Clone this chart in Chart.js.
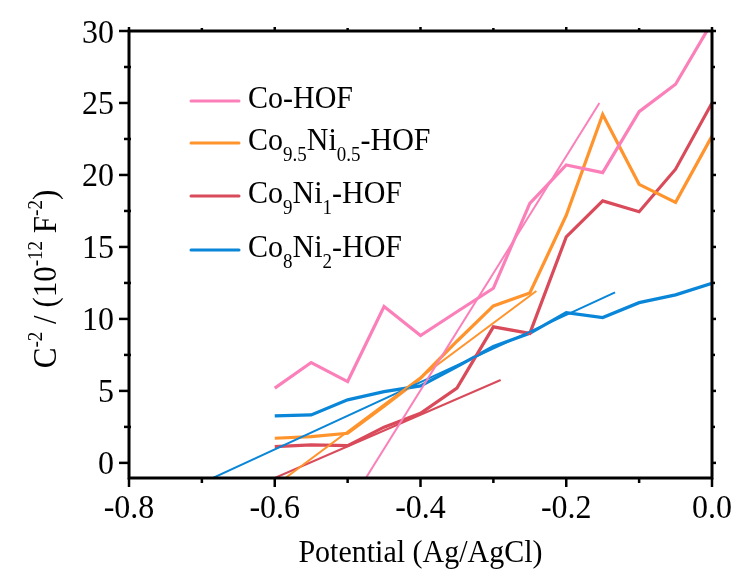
<!DOCTYPE html>
<html>
<head>
<meta charset="utf-8">
<script src="https://cdn.jsdelivr.net/npm/chart.js@4/dist/chart.umd.min.js"></script>
<style>
html,body{margin:0;padding:0;background:#fff;}
#c{display:block;}
</style>
</head>
<body>
<canvas id="c" width="738" height="574"></canvas>
<script>
// ---- data ----
const potentials = [-0.6, -0.55, -0.5, -0.45, -0.4, -0.35, -0.3, -0.25, -0.2, -0.15, -0.1, -0.05, 0.0];
const coHOF      = [5.19, 6.97, 5.65, 10.86, 8.84, 10.5, 12.13, 18.03, 20.7, 20.16, 24.4, 26.3, 30.6];
const co95Ni05   = [1.71, 1.83, 2.06, 3.93, 5.88, 8.45, 10.9, 11.8, 17.2, 24.2, 19.35, 18.1, 22.7];
const co9Ni1     = [1.13, 1.25, 1.2, 2.48, 3.45, 5.19, 9.45, 9.0, 15.7, 18.2, 17.45, 20.4, 25.0];
const co8Ni2     = [3.26, 3.33, 4.38, 4.95, 5.35, 6.69, 8.08, 9.0, 10.44, 10.1, 11.13, 11.67, 12.48];

// linear fits (end points)
const fitCoHOF_x = [-0.48, -0.1545];   const fitCoHOF_y = [-1.46, 25.0];
const fitCo95_x  = [-0.6, -0.241];     const fitCo95_y  = [-1.6, 11.94];
const fitCo9_x   = [-0.6, -0.29];      const fitCo9_y   = [-1.05, 5.76];
const fitCo8_x   = [-0.7, -0.133];     const fitCo8_y   = [-1.4, 11.85];

const xMajorTicks = [-0.8, -0.6, -0.4, -0.2, 0.0];
const xMajorLabels = ["-0.8", "-0.6", "-0.4", "-0.2", "0.0"];
const xMinorTicks = [-0.7, -0.5, -0.3, -0.1];
const yMajorTicks = [0, 5, 10, 15, 20, 25, 30];
const yMajorLabels = ["0", "5", "10", "15", "20", "25", "30"];
const yMinorTicks = [2.5, 7.5, 12.5, 17.5, 22.5, 27.5];

const seriesNames = [
  [["Co", ""], ["-HOF", ""]],
  [["Co", "9.5"], ["Ni", "0.5"], ["-HOF", ""]],
  [["Co", "9"], ["Ni", "1"], ["-HOF", ""]],
  [["Co", "8"], ["Ni", "2"], ["-HOF", ""]]
];
const colors = ["#FB80BA", "#FF932C", "#D94B5A", "#0A86D8"];

// ---- build ----
const pts = (xs, ys) => xs.map((v, i) => ({x: v, y: ys[i]}));
const mainSeries = [coHOF, co95Ni05, co9Ni1, co8Ni2];
const fits = [[fitCoHOF_x, fitCoHOF_y], [fitCo95_x, fitCo95_y], [fitCo9_x, fitCo9_y], [fitCo8_x, fitCo8_y]];

const datasets = [];
fits.forEach((f, i) => datasets.push({
  data: pts(f[0], f[1]), borderColor: colors[i], borderWidth: 2,
  pointRadius: 0, tension: 0, clip: 0, fill: false
}));
mainSeries.forEach((s, i) => datasets.push({
  data: pts(potentials, s), borderColor: colors[i], borderWidth: 3.2,
  pointRadius: 0, tension: 0, clip: 0, fill: false, borderJoinStyle: 'miter'
}));

const FONT = '"Liberation Serif", "Times New Roman", serif';

// draw text stretched vertically a little, like the reference's tall serif
function tallText(ctx, s, x, y, sy) {
  ctx.save();
  ctx.translate(x, y);
  ctx.scale(1, sy);
  ctx.fillText(s, 0, 0);
  ctx.restore();
}

const framePlugin = {
  id: 'frame',
  afterDraw(chart) {
    const {ctx, chartArea: {left, right, top, bottom}, scales: {x, y}} = chart;
    ctx.save();
    ctx.strokeStyle = '#000';
    ctx.lineWidth = 3;
    ctx.strokeRect(left, top, right - left, bottom - top);
    ctx.lineWidth = 2.5;
    const seg = (x1, y1, x2, y2) => { ctx.beginPath(); ctx.moveTo(x1, y1); ctx.lineTo(x2, y2); ctx.stroke(); };
    xMajorTicks.forEach(v => { const p = x.getPixelForValue(v); seg(p, bottom, p, bottom + 9); seg(p, top, p, top - 4); });
    xMinorTicks.forEach(v => { const p = x.getPixelForValue(v); seg(p, bottom, p, bottom + 5); seg(p, top, p, top - 3); });
    yMajorTicks.forEach(v => { const p = y.getPixelForValue(v); seg(left, p, left - 10, p); seg(right, p, right + 4, p); });
    yMinorTicks.forEach(v => { const p = y.getPixelForValue(v); seg(left + 2, p, left - 5, p); seg(right, p, right + 3, p); });

    ctx.fillStyle = '#000';
    ctx.font = '32px ' + FONT;
    ctx.textAlign = 'center'; ctx.textBaseline = 'alphabetic';
    xMajorTicks.forEach((v, i) => tallText(ctx, xMajorLabels[i], x.getPixelForValue(v), bottom + 40, 1.06));
    ctx.textAlign = 'right'; ctx.textBaseline = 'alphabetic';
    yMajorTicks.forEach((v, i) => tallText(ctx, yMajorLabels[i], left - 15, y.getPixelForValue(v) + 11.5, 1.06));

    // x title
    ctx.font = '30px ' + FONT;
    ctx.textAlign = 'center'; ctx.textBaseline = 'alphabetic';
    tallText(ctx, 'Potential (Ag/AgCl)', (left + right) / 2, 562, 1.08);

    // y title with superscripts
    const parts = [["C", false], ["-2", true], [" / (10", false], ["-12", true], [" F", false], ["-2", true], [")", false]];
    const big = '31px ' + FONT, small = '19px ' + FONT;
    let total = 0;
    parts.forEach(p => { ctx.font = p[1] ? small : big; total += ctx.measureText(p[0]).width; });
    ctx.save();
    ctx.translate(56, 279);
    ctx.rotate(-Math.PI / 2);
    ctx.scale(1, 1.06);
    ctx.textAlign = 'left'; ctx.textBaseline = 'alphabetic';
    let cx = -total / 2;
    parts.forEach(p => {
      ctx.font = p[1] ? small : big;
      ctx.fillText(p[0], cx, p[1] ? -13 : 0);
      cx += ctx.measureText(p[0]).width;
    });
    ctx.restore();

    // legend
    const legY = [101, 143, 196, 250];
    seriesNames.forEach((nm, i) => {
      ctx.strokeStyle = colors[i]; ctx.lineWidth = 3; ctx.lineCap = 'round';
      seg(191, legY[i], 239, legY[i]);
      let tx = 248;
      const base = legY[i] + 7;
      ctx.textAlign = 'left'; ctx.textBaseline = 'alphabetic';
      nm.forEach(part => {
        ctx.font = '30px ' + FONT;
        tallText(ctx, part[0], tx, base, 1.08);
        tx += ctx.measureText(part[0]).width;
        if (part[1]) {
          ctx.font = '19px ' + FONT;
          tallText(ctx, part[1], tx, base + 11, 1.08);
          tx += ctx.measureText(part[1]).width;
        }
      });
    });
    ctx.restore();
  }
};

new Chart(document.getElementById('c'), {
  type: 'line',
  data: {datasets},
  options: {
    responsive: false,
    devicePixelRatio: 1,
    animation: false,
    events: [],
    layout: {padding: {left: 129, right: 26, top: 31, bottom: 96}},
    plugins: {legend: {display: false}, tooltip: {enabled: false}},
    scales: {
      x: {type: 'linear', min: -0.8, max: 0, display: false},
      y: {type: 'linear', min: -1.05, max: 30, display: false}
    }
  },
  plugins: [framePlugin]
});
</script>
</body>
</html>
